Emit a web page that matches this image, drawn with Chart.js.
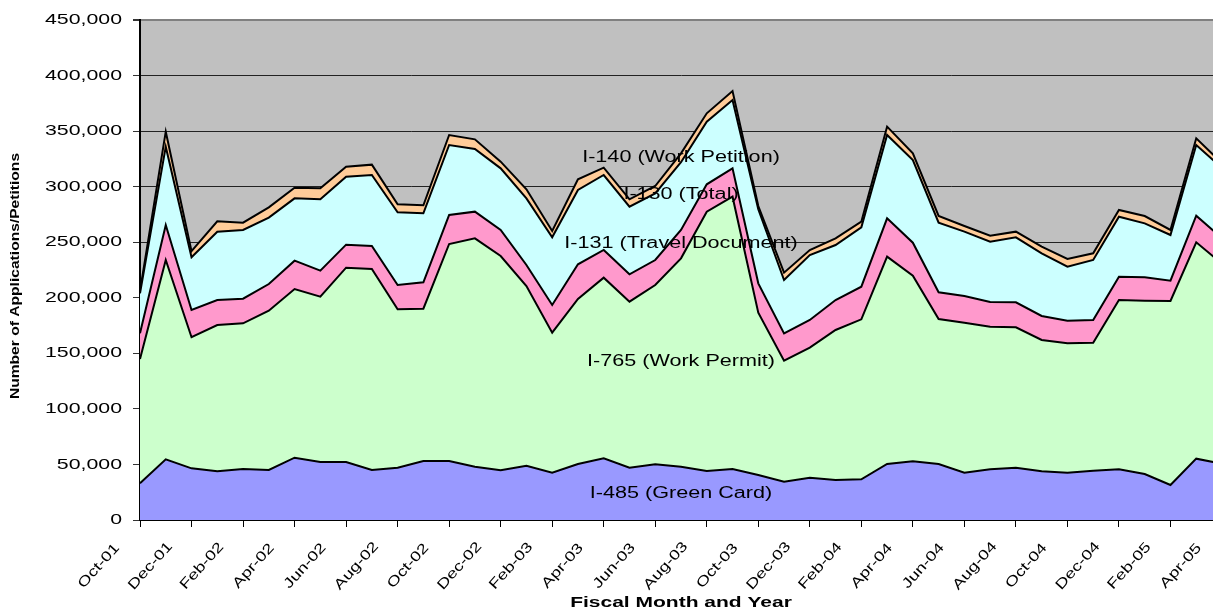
<!DOCTYPE html>
<html>
<head>
<meta charset="utf-8">
<script src="https://cdn.jsdelivr.net/npm/chart.js@4.4.1/dist/chart.umd.min.js"></script>
<style>
  html, body { margin: 0; padding: 0; background: #fff; overflow: hidden; }
  #wrap { width: 1213px; height: 611px; overflow: hidden; }
</style>
</head>
<body>
<div id="wrap"><canvas id="chart" width="1240" height="611"></canvas></div>
<script>
// months of the fiscal years (the picture is cut off after Apr-05)
const months = ['Oct-01','Nov-01','Dec-01','Jan-02','Feb-02','Mar-02','Apr-02','May-02','Jun-02','Jul-02','Aug-02','Sep-02',
  'Oct-02','Nov-02','Dec-02','Jan-03','Feb-03','Mar-03','Apr-03','May-03','Jun-03','Jul-03','Aug-03','Sep-03',
  'Oct-03','Nov-03','Dec-03','Jan-04','Feb-04','Mar-04','Apr-04','May-04','Jun-04','Jul-04','Aug-04','Sep-04',
  'Oct-04','Nov-04','Dec-04','Jan-05','Feb-05','Mar-05','Apr-05'];

// monthly receipts per form (stacked bottom to top)
const greenCard = [33000, 54600, 46500, 43800, 45900, 45000, 56100, 52200, 52200, 45000, 47100, 53100,
  53100, 48000, 44700, 48900, 42600, 50400, 55500, 47100, 50100, 48000, 44100, 45900,
  40500, 34500, 38100, 36000, 36600, 50400, 52800, 50400, 42600, 45600, 47100, 43800,
  42600, 44400, 45600, 41400, 31500, 55200, 50700];
const workPermit = [112000, 179400, 118000, 131700, 131100, 143400, 151800, 148800, 174900, 180900, 142500, 137100,
  195300, 205500, 192900, 161700, 126000, 148500, 162600, 149400, 161400, 187500, 233400, 245100,
  146100, 108900, 117000, 135000, 144000, 186600, 167100, 130500, 135000, 128400, 126300, 118200,
  116400, 115200, 152400, 156000, 165600, 194700, 180000];
const travelDoc = [23000, 31500, 24500, 22500, 22200, 24000, 25500, 23400, 20700, 20700, 21900, 23700,
  26100, 24000, 23400, 18900, 24900, 31200, 24900, 24600, 22500, 25500, 24600, 25500,
  26400, 24600, 24900, 27000, 29400, 34500, 29700, 24000, 24000, 22200, 22500, 21600,
  20400, 20400, 21000, 21000, 18300, 24000, 22800];
const familyTotal = [36000, 70500, 47400, 61500, 61800, 59700, 56100, 64200, 61200, 63900, 65400, 62100,
  63000, 56400, 55500, 60000, 60900, 66900, 67500, 60900, 60000, 61000, 56400, 61500,
  66600, 48000, 58500, 49500, 53400, 75000, 74400, 62700, 57900, 54300, 58500, 56400,
  48600, 54000, 54000, 48600, 41100, 63600, 63300];
const workPetition = [2000, 13500, 5600, 9300, 6600, 9300, 9600, 9900, 9000, 9300, 7200, 7200,
  9000, 8700, 6000, 8100, 5700, 9600, 6600, 6600, 6600, 8000, 7500, 8100,
  3000, 6600, 4500, 6000, 5100, 7500, 6000, 6000, 5100, 5400, 5100, 6000,
  6900, 6000, 6000, 6600, 4500, 6000, 4200];

const seriesNames = ['I-485 (Green Card)', 'I-765 (Work Permit)', 'I-131 (Travel Document)', 'I-130 (Total)', 'I-140 (Work Petition)'];
const seriesColors = ['#9999FF', '#CCFFCC', '#FF99CC', '#CCFFFF', '#FFCC99'];

// where the series names sit (month index, value)
const nameSpots = [[21, 23800], [21, 142200], [21, 249000], [21, 292500], [21, 326300]];

const FONT = '"Liberation Sans", Arial, sans-serif';

// the original text is drawn wider than normal, so stretch it along its baseline
function wideText(ctx, text, x, y, angle, sx, font, align) {
  ctx.save();
  ctx.translate(x, y);
  ctx.rotate(angle);
  ctx.scale(sx, 1);
  ctx.font = font;
  ctx.fillStyle = '#000';
  ctx.textAlign = align;
  ctx.textBaseline = 'middle';
  ctx.fillText(text, 0, 0);
  ctx.restore();
}

const decor = {
  id: 'decor',
  beforeDraw(chart) {
    const { ctx, chartArea: a } = chart;
    ctx.save();
    ctx.fillStyle = '#fff';
    ctx.fillRect(0, 0, chart.width, chart.height);
    ctx.fillStyle = '#C0C0C0';
    ctx.fillRect(a.left, a.top, a.right - a.left, a.bottom - a.top);
    ctx.restore();
  },
  afterDraw(chart) {
    const { ctx, chartArea: a } = chart;
    const xs = chart.scales.x, ys = chart.scales.y;

    ys.ticks.forEach((t, i) => {
      wideText(ctx, t.value.toLocaleString('en-US'), a.left - 18, ys.getPixelForTick(i), 0, 1.42, '15px ' + FONT, 'right');
    });

    months.forEach((m, i) => {
      if (i % 2) return;
      wideText(ctx, m, xs.getPixelForValue(i) - 41, a.bottom + 46, -48 * Math.PI / 180, 1.3, '14px ' + FONT, 'center');
    });

    wideText(ctx, 'Fiscal Month and Year', (a.left + a.right) / 2, 603, 0, 1.4, 'bold 15px ' + FONT, 'center');
    wideText(ctx, 'Number of Applications/Petitions', 16, 276, -Math.PI / 2, 1.3, 'bold 12px ' + FONT, 'center');

    nameSpots.forEach((p, i) => {
      wideText(ctx, seriesNames[i], xs.getPixelForValue(p[0]), ys.getPixelForValue(p[1]), 0, 1.35, '16px ' + FONT, 'center');
    });
  }
};

const seriesData = [greenCard, workPermit, travelDoc, familyTotal, workPetition];

new Chart(document.getElementById('chart'), {
  type: 'line',
  data: {
    labels: months,
    datasets: seriesData.map((d, i) => ({
      label: seriesNames[i],
      data: d,
      backgroundColor: seriesColors[i],
      borderColor: '#000',
      borderWidth: 2,
      pointRadius: 0,
      tension: 0,
      fill: i === 0 ? 'origin' : '-1'
    }))
  },
  options: {
    responsive: false,
    animation: false,
    devicePixelRatio: 1,
    layout: { padding: { top: 20, right: 18, bottom: 0, left: 0 } },
    plugins: { legend: { display: false }, tooltip: { enabled: false } },
    scales: {
      x: {
        offset: false,
        ticks: { display: false },
        grid: {
          drawOnChartArea: false,
          tickLength: 7,
          lineWidth: 1,
          color: c => (c.index % 2 === 0 ? '#000' : 'rgba(0,0,0,0)')
        },
        border: { display: true, color: '#000', width: 2 },
        afterFit: s => { s.height = 91; }
      },
      y: {
        stacked: true,
        min: 0,
        max: 450000,
        ticks: { display: false, stepSize: 50000 },
        grid: {
          tickLength: 7,
          color: c => (c.tick && c.tick.value === 450000 ? '#808080' : '#222'),
          lineWidth: c => (c.tick && c.tick.value === 450000 ? 2 : 1),
          tickColor: '#333'
        },
        border: { display: true, color: '#000', width: 2 },
        afterFit: s => { s.width = 140; }
      }
    }
  },
  plugins: [decor]
});
</script>
</body>
</html>
